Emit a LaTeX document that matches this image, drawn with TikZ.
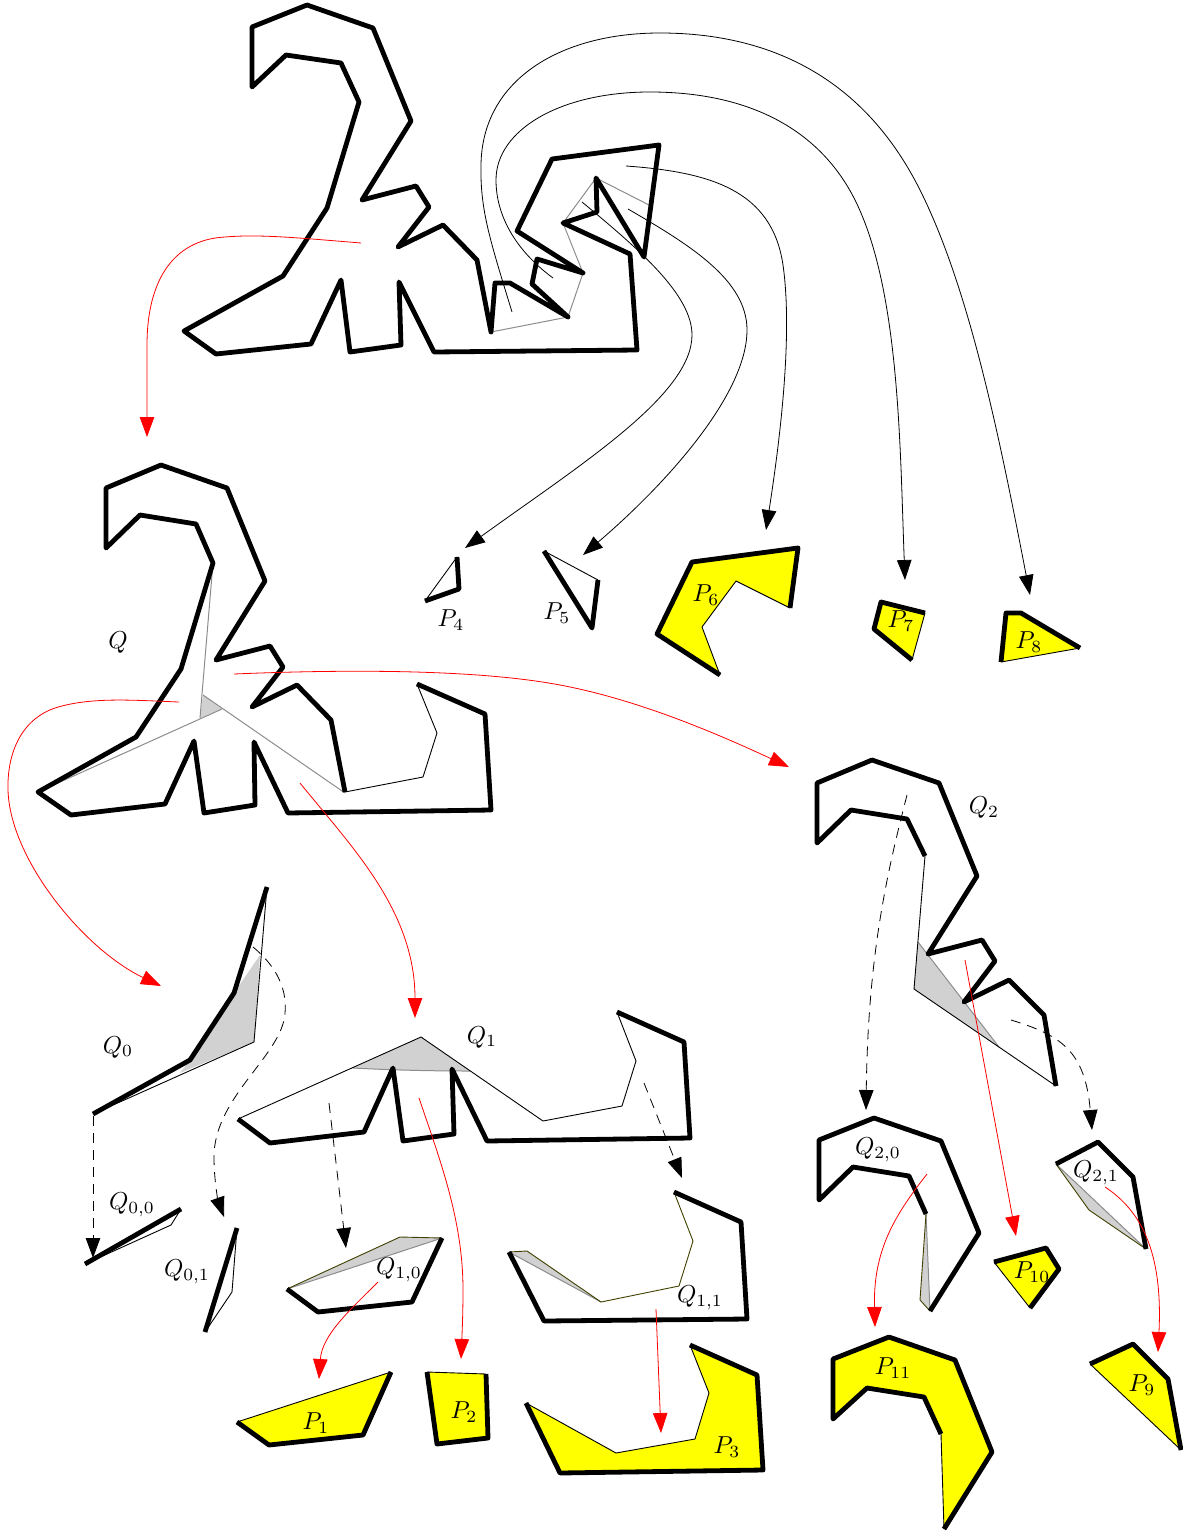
\documentclass[tikz,border=0pt]{standalone}
\usetikzlibrary{arrows.meta}
\definecolor{purey}{RGB}{255,255,0}
\definecolor{pured}{RGB}{255,0,0}
\tikzset{
  hv/.style={line width=4.8pt,line join=round,line cap=butt},
  tn/.style={line width=0.9pt,line join=round},
  olive/.style={line width=0.9pt,line join=round,draw=black!75!purey},
  gl/.style={line width=1pt,draw=black!45},
  gf/.style={fill=black!18,draw=none},
  yf/.style={fill=purey,draw=none},
  blk/.style={line width=0.8pt,-{Triangle[length=20pt,width=14.5pt]}},
  rd/.style={line width=0.8pt,pured,-{Triangle[length=20pt,width=14.5pt]}},
  dsh/.style={line width=0.8pt,dash pattern=on 10pt off 7pt,-{Triangle[length=20pt,width=14.5pt]}},
  lb/.style={inner sep=0pt,scale=2.45},
}
\begin{document}
\begin{tikzpicture}[x=1pt,y=-1pt]
\useasboundingbox (0,0) rectangle (1183,1531);

% ---------- top polygon
\draw[gl] (491,332)--(568,317)--(583,273)--(563,223)--(596,178)--(651,206);
\draw[hv] (252,87)--(252,27)--(307,5)--(373,28)--(411,121)--(362,200)--(416,186)--(429,207)--(398,247)--(443,225)--(477,260)--(491,332)--(495,283)--(510,283)--(568,317)--(532,284)--(537,259)--(583,273)--(517,231)--(552,159)--(659,145)--(644,257)--(596,178)--(597,212)--(563,223)--(630,254)--(637,350)--(434,352)--(399,282)--(401,345)--(350,352)--(341,280)--(311,344)--(216,354)--(184,331)--(283,276)--(327,208)--(359,102)--(341,63)--(286,55)--cycle;

% ---------- Q
\fill[gf] (203,695)--(200,718)--(222,709)--cycle;
\draw[gl] (213,563)--(200,718);
\draw[gl] (38,792)--(222,709);
\draw[gl] (203,695)--(345,793);
\draw[tn] (345,792)--(423,777)--(437,733)--(417,684);
\draw[hv] (417,684)--(485,714)--(491,810)--(288,813)--(254,742)--(255,805)--(204,813)--(194,741)--(165,804)--(71,815)--(38,792)--(136,737)--(181,669)--(213,563)--(196,524)--(140,515)--(106,548)--(106,488)--(161,465)--(227,488)--(265,581)--(216,660)--(270,646)--(283,667)--(252,707)--(297,685)--(331,720)--(345,792);

% ---------- Q0
\fill[gf] (260,955)--(254,1042)--(180,1073)--(190,1060)--(234,993)--cycle;
\draw[tn] (93,1114)--(254,1042)--(267,887);
\draw[hv] (267,887)--(234,993)--(190,1060)--(93,1114);

% ---------- Q00, Q01
\draw[tn] (181,1209)--(171,1225)--(85,1264);
\draw[hv] (85,1264)--(181,1209);
\draw[tn] (237,1228)--(232,1292)--(205,1332);
\draw[hv] (237,1228)--(205,1332);

% ---------- Q1
\fill[gf] (353,1068)--(421,1037)--(470,1071) .. controls (430,1071) and (390,1070) .. (353,1068);
\draw[gl] (353,1068) .. controls (390,1070) and (430,1071) .. (470,1071);
\draw[tn] (238,1119)--(421,1037)--(543,1121)--(622,1106)--(636,1061)--(617,1012);
\draw[hv] (617,1012)--(684,1042)--(690,1138)--(487,1141)--(452,1069)--(454,1134)--(403,1141)--(393,1068)--(364,1132)--(270,1143)--(238,1119);

% ---------- Q10, Q11
\fill[gf] (287,1289)--(400,1237)--(442,1238)--cycle;
\draw[gl] (287,1289)--(442,1238);
\draw[olive] (442,1238)--(400,1237)--(287,1289);
\draw[hv] (287,1289)--(318,1312)--(412,1302)--(442,1238);
\fill[gf] (509,1252)--(527,1251)--(601,1302)--cycle;
\draw[gl] (509,1252)--(601,1302);
\draw[olive] (509,1252)--(527,1251)--(601,1302)--(679,1286)--(693,1241)--(674,1192);
\draw[hv] (674,1192)--(741,1222)--(747,1319)--(544,1321)--(509,1252);

% ---------- Q2
\fill[gf] (918,942)--(914,989)--(999,1047)--cycle;
\draw[gl] (918,942)--(999,1047);
\draw[tn] (925,856)--(914,989)--(1056,1086);
\draw[hv] (925,856)--(907,819)--(851,810)--(817,843)--(817,783)--(872,760)--(939,783)--(977,876)--(928,954)--(982,940)--(995,961)--(964,1002)--(1009,980)--(1044,1015)--(1056,1086);

% ---------- Q20, Q21
\fill[gf] (926,1214)--(920,1300)--(930,1311)--cycle;
\draw[gl] (926,1214)--(930,1311);
\draw[olive] (930,1311)--(920,1300)--(926,1214);
\draw[hv] (926,1214)--(909,1176)--(853,1167)--(819,1200)--(819,1140)--(874,1118)--(941,1141)--(979,1233)--(930,1311);
\fill[gf] (1056,1164)--(1089,1210)--(1146,1249)--cycle;
\draw[gl] (1056,1164)--(1146,1249);
\draw[olive] (1146,1249)--(1089,1210)--(1056,1164);
\draw[hv] (1056,1164)--(1098,1142)--(1133,1177)--(1146,1249);

% ---------- P4, P5
\draw[tn] (425,601)--(457,557);
\draw[hv] (457,557)--(459,589)--(425,601);
\draw[tn] (544,551)--(598,580);
\draw[hv] (598,580)--(592,628)--(544,551);

% ---------- yellow pieces
\fill[yf] (720,675)--(657,634)--(692,562)--(798,548)--(790,608)--(736,581)--(702,627)--cycle;
\draw[tn] (790,608)--(736,581)--(702,627)--(720,675);
\draw[hv] (720,675)--(657,634)--(692,562)--(798,548)--(790,608);

\fill[yf] (925,613)--(881,602)--(874,629)--(912,660)--cycle;
\draw[tn] (912,660)--(925,613);
\draw[hv] (925,613)--(881,602)--(874,629)--(912,660);

\fill[yf] (1001,662)--(1006,613)--(1021,613)--(1080,648)--cycle;
\draw[tn] (1080,648)--(1001,662);
\draw[hv] (1001,662)--(1006,613)--(1021,613)--(1080,648);

\fill[yf] (237,1422)--(269,1445)--(363,1435)--(391,1372)--cycle;
\draw[tn] (391,1372)--(237,1422);
\draw[hv] (237,1422)--(269,1445)--(363,1435)--(391,1372);

\fill[yf] (427,1372)--(437,1444)--(488,1438)--(486,1374)--cycle;
\draw[tn] (486,1374)--(427,1372);
\draw[hv] (427,1372)--(437,1444)--(488,1438)--(486,1374);

\fill[yf] (690,1345)--(757,1375)--(763,1470)--(560,1473)--(526,1403)--(616,1453)--(695,1439)--(709,1393)--cycle;
\draw[tn] (526,1403)--(616,1453)--(695,1439)--(709,1393)--(690,1345);
\draw[hv] (690,1345)--(757,1375)--(763,1470)--(560,1473)--(526,1403);

\fill[yf] (1090,1364)--(1133,1344)--(1168,1379)--(1181,1450)--cycle;
\draw[tn] (1181,1450)--(1090,1364);
\draw[hv] (1090,1364)--(1133,1344)--(1168,1379)--(1181,1450);

\fill[yf] (994,1262)--(1046,1248)--(1059,1269)--(1030,1308)--cycle;
\draw[tn] (1030,1308)--(994,1262);
\draw[hv] (994,1262)--(1046,1248)--(1059,1269)--(1030,1308);

\fill[yf] (941,1434)--(924,1397)--(867,1388)--(833,1419)--(833,1359)--(889,1337)--(955,1360)--(992,1452)--(944,1529)--cycle;
\draw[tn] (944,1529)--(941,1434);
\draw[hv] (941,1434)--(924,1397)--(867,1388)--(833,1419)--(833,1359)--(889,1337)--(955,1360)--(992,1452)--(944,1529);

% ---------- connector ends
\coordinate (b8s) at (512,312); \coordinate (b8e) at (1030,595);
\coordinate (b7s) at (553,278); \coordinate (b7e) at (905,580);
\coordinate (b6s) at (626,166); \coordinate (b6e) at (766,530);
\coordinate (b5s) at (628,209); \coordinate (b5e) at (583,555);
\coordinate (b4s) at (582,202); \coordinate (b4e) at (465,548);
\coordinate (r1s) at (361,243); \coordinate (r1e) at (147,437);
\coordinate (r2s) at (179,702); \coordinate (r2e) at (161,986);
\coordinate (r3s) at (234,674); \coordinate (r3e) at (789,767);
\coordinate (r4s) at (300,783); \coordinate (r4e) at (415,1018);
\coordinate (r5s) at (419,1098); \coordinate (r5e) at (461,1359);
\coordinate (r6s) at (378,1282); \coordinate (r6e) at (319,1379);
\coordinate (r7s) at (656,1309); \coordinate (r7e) at (661,1433);
\coordinate (r8s) at (965,960);  \coordinate (r8e) at (1016,1236);
\coordinate (r9s) at (927,1174); \coordinate (r9e) at (875,1327);
\coordinate (r10s) at (1105,1187); \coordinate (r10e) at (1158,1352);
\coordinate (d1s) at (93,1116);  \coordinate (d1e) at (93,1258);
\coordinate (d2s) at (253,947);  \coordinate (d2e) at (224,1217);
\coordinate (d3s) at (329,1103); \coordinate (d3e) at (346,1248);
\coordinate (d4s) at (644,1083); \coordinate (d4e) at (682,1178);
\coordinate (d5s) at (907,795);  \coordinate (d5e) at (866,1110);
\coordinate (d6s) at (1011,1020); \coordinate (d6e) at (1092,1130);

% ---------- black arrows
\draw[blk] (b8s) .. controls (490,240) and (480,210) .. (481,165) .. controls (482,80) and (560,33) .. (660,33) .. controls (760,33) and (860,70) .. (920,190) .. controls (970,290) and (1000,440) .. (b8e);
\draw[blk] (b7s) .. controls (515,250) and (496,215) .. (496,180) .. controls (496,130) and (560,92) .. (650,92) .. controls (750,92) and (820,130) .. (855,200) .. controls (900,290) and (900,450) .. (b7e);
\draw[blk] (b6s) .. controls (710,172) and (772,190) .. (783,265) .. controls (793,335) and (780,440) .. (b6e);
\draw[blk] (b5s) .. controls (690,245) and (747,280) .. (747,330) .. controls (747,395) and (665,485) .. (b5e);
\draw[blk] (b4s) .. controls (640,250) and (692,295) .. (692,335) .. controls (692,395) and (580,465) .. (b4e);

% ---------- red arrows
\draw[rd] (r1s) .. controls (300,238) and (260,234) .. (225,237) .. controls (170,240) and (147,285) .. (147,345) -- (r1e);
\draw[rd] (r2s) .. controls (130,700) and (90,697) .. (55,708) .. controls (20,720) and (7,755) .. (8,790) .. controls (10,860) and (85,950) .. (r2e);
\draw[rd] (r3s) .. controls (330,670) and (470,668) .. (560,685) .. controls (640,700) and (720,735) .. (r3e);
\draw[rd] (r4s) .. controls (350,845) and (415,910) .. (r4e);
\draw[rd] (r5s) .. controls (440,1160) and (463,1220) .. (463,1290) .. controls (463,1315) and (462,1335) .. (r5e);
\draw[rd] (r6s) .. controls (350,1310) and (322,1335) .. (r6e);
\draw[rd] (r7s) -- (r7e);
\draw[rd] (r8s) -- (r8e);
\draw[rd] (r9s) .. controls (895,1215) and (873,1250) .. (r9e);
\draw[rd] (r10s) .. controls (1140,1210) and (1163,1250) .. (r10e);

% ---------- dashed arrows
\draw[dsh] (d1s) -- (d1e);
\draw[dsh] (d2s) .. controls (275,965) and (290,990) .. (284,1020) .. controls (275,1060) and (214,1100) .. (214,1157) .. controls (214,1180) and (218,1200) .. (d2e);
\draw[dsh] (d3s) -- (d3e);
\draw[dsh] (d4s) -- (d4e);
\draw[dsh] (d5s) .. controls (885,880) and (868,960) .. (d5e);
\draw[dsh] (d6s) .. controls (1060,1035) and (1085,1050) .. (d6e);

% ---------- labels
\node[lb] (lQ) at (118,643) {$Q$};
\node[lb] (lP4) at (451,620) {$P_4$};
\node[lb] (lP5) at (557,613) {$P_5$};
\node[lb] (lP6) at (706,595) {$P_6$};
\node[lb] (lP7) at (901,621) {$P_7$};
\node[lb] (lP8) at (1029,642) {$P_8$};
\node[lb] (lQ0) at (118,1047) {$Q_0$};
\node[lb] (lQ1) at (482,1037) {$Q_1$};
\node[lb] (lQ2) at (984,808) {$Q_2$};
\node[lb] (lQ00) at (132,1205) {$Q_{0,0}$};
\node[lb] (lQ01) at (187,1272) {$Q_{0,1}$};
\node[lb] (lQ10) at (399,1270) {$Q_{1,0}$};
\node[lb] (lQ11) at (700,1298) {$Q_{1,1}$};
\node[lb] (lQ20) at (878,1150) {$Q_{2,0}$};
\node[lb] (lQ21) at (1096,1173) {$Q_{2,1}$};
\node[lb] (lP1) at (316,1423) {$P_1$};
\node[lb] (lP2) at (464,1412) {$P_2$};
\node[lb] (lP3) at (727,1447) {$P_3$};
\node[lb] (lP9) at (1142,1385) {$P_9$};
\node[lb] (lP10) at (1032,1272) {$P_{10}$};
\node[lb] (lP11) at (893,1368) {$P_{11}$};
\end{tikzpicture}
\end{document}
